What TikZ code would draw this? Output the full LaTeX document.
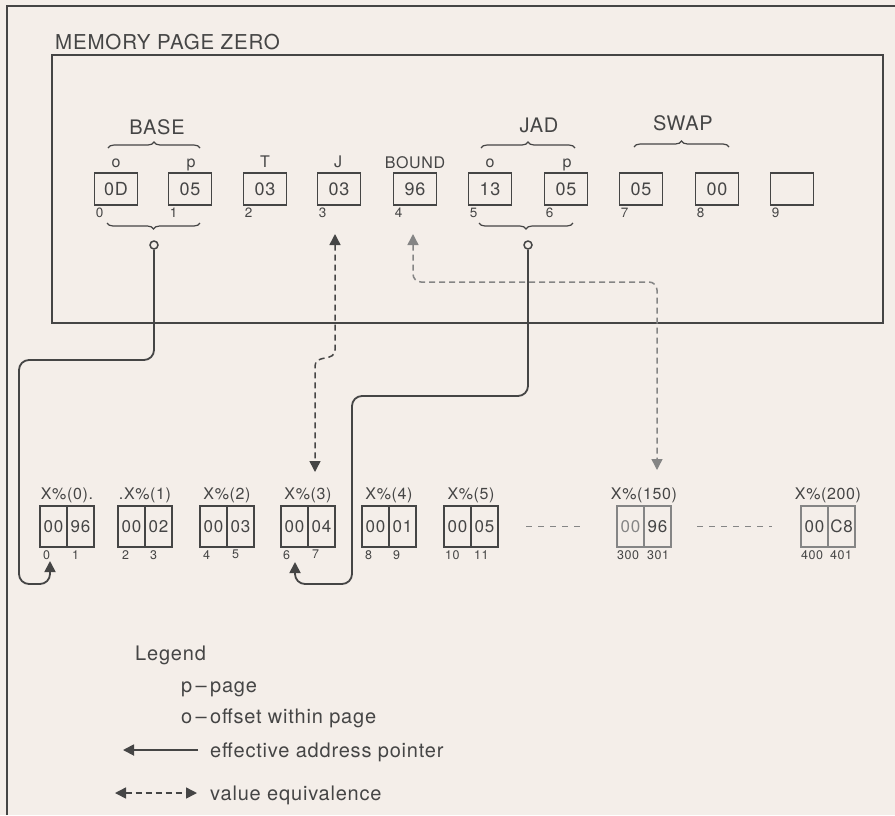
\documentclass[tikz,border=0pt]{standalone}
\usepackage{fontspec}
\setmainfont{TeX Gyre Heros}[LetterSpace=4]
\usetikzlibrary{arrows.meta, positioning, decorations.pathreplacing}
\definecolor{papel}{HTML}{F4EEE9}
\definecolor{tinta}{HTML}{454545}
\definecolor{tintaClara}{HTML}{858585}
\newcommand{\fsz}[1]{\fontsize{#1}{#1}\selectfont}

\begin{document}
\begin{tikzpicture}[x=1pt, y=-1pt, color=tinta, node distance=3pt,
        cell/.style={draw=tinta, line width=1.8pt, minimum width=43pt, minimum height=32pt,
            inner sep=0pt, font=\fsz{18}},
        idx/.style={font=\fsz{13.5}, inner sep=1pt, anchor=north west, xshift=1pt, yshift=-1pt},
        lbl/.style={font=\fsz{16}, inner sep=0pt, anchor=base},
        grp/.style={font=\fsz{20}, inner sep=0pt, anchor=base},
        brace/.style={decorate, decoration={brace, amplitude=6pt}, line width=1.2pt},
        pin/.style={circle, draw=tinta, line width=1.5pt, inner sep=0pt, minimum size=8pt},
        half/.style={draw=tinta, line width=1.8pt, minimum width=27pt, minimum height=41pt,
            inner sep=0pt, outer sep=0pt, font=\fsz{17}},
        hdr/.style={font=\fsz{16}, inner sep=0pt},
        bidx/.style={font=\fsz{12.5}, inner sep=0pt, anchor=north west, yshift=-3pt},
        ptr/.style={-{Triangle[width=11pt,length=11pt]}, line width=1.8pt, rounded corners=10pt},
        veq/.style={{Triangle[width=11pt,length=11pt]}-{Triangle[width=11pt,length=11pt]},
            line width=1.5pt, dash pattern=on 6pt off 4pt, rounded corners=8pt},
        sep/.style={line width=1.2pt, dash pattern=on 6pt off 6pt, tintaClara},
        leg/.style={font=\fsz{20}, inner sep=0pt, anchor=base west}]
    \fill[papel] (0,0) rectangle (895,815);
    \useasboundingbox (0,0) rectangle (895,815);
    % frames
    \draw[line width=1.5pt] (7,815) -- (7,6) -- (895,6);
    \draw[line width=2pt] (52,55) rectangle (883,323);
    \node[grp, anchor=base west, font=\fsz{20.5}] (ttl) at (55,49) {MEMORY PAGE ZERO};
    % page zero cells
    \node[cell] (m0) at (116,189) {0D};
    \node[cell] (m1) at (190,189) {05};
    \node[cell] (m2) at (265,189) {03};
    \node[cell] (m3) at (339,189) {03};
    \node[cell] (m4) at (415,189) {96};
    \node[cell] (m5) at (490,189) {13};
    \node[cell] (m6) at (566,189) {05};
    \node[cell] (m7) at (641,189) {05};
    \node[cell] (m8) at (717,189) {00};
    \node[cell] (m9) at (792,189) {};
    \node[idx] (i0) at (m0.south west) {0};
    \node[idx] (i1) at (m1.south west) {1};
    \node[idx] (i2) at (m2.south west) {2};
    \node[idx] (i3) at (m3.south west) {3};
    \node[idx] (i4) at (m4.south west) {4};
    \node[idx] (i5) at (m5.south west) {5};
    \node[idx] (i6) at (m6.south west) {6};
    \node[idx] (i7) at (m7.south west) {7};
    \node[idx] (i8) at (m8.south west) {8};
    \node[idx] (i9) at (m9.south west) {9};
    \node[lbl] (lo0) at (116,167) {o};
    \node[lbl] (lp1) at (191,167) {p};
    \node[lbl] (lt) at (265,167) {T};
    \node[lbl] (lj) at (338,167) {J};
    \node[lbl, font=\fsz{16}] (lbd) at (415,168) {BOUND};
    \node[lbl] (lo5) at (490,167) {o};
    \node[lbl] (lp6) at (567,167) {p};
    % groups
    \draw[brace] (108,148) -- (200,148);
    \draw[brace] (481,148) -- (575,148);
    \draw[brace] (634,147) -- (729,147);
    \node[grp] (gbase) at (157,134) {BASE};
    \node[grp] (gjad) at (539,132) {JAD};
    \node[grp] (gswap) at (683,130) {SWAP};
    \draw[brace] (200,223) -- (107,223);
    \draw[brace] (573,223) -- (479,223);
    \node[pin] (pbase) at (154,245) {};
    \node[pin] (pjad) at (528,245) {};
    % array X%
    \node[half] (x0l) at (53.5,526.5) {00};
    \node[half, right=0pt of x0l] (x0r) {96};
    \node[half] (x1l) at (131.5,526.5) {00};
    \node[half, right=0pt of x1l] (x1r) {02};
    \node[half] (x2l) at (213.5,526.5) {00};
    \node[half, right=0pt of x2l] (x2r) {03};
    \node[half] (x3l) at (294.5,526.5) {00};
    \node[half, right=0pt of x3l] (x3r) {04};
    \node[half] (x4l) at (375.5,526.5) {00};
    \node[half, right=0pt of x4l] (x4r) {01};
    \node[half] (x5l) at (457.5,526.5) {00};
    \node[half, right=0pt of x5l] (x5r) {05};
    \node[half, draw=tintaClara, text=tintaClara] (x150l) at (630.5,526.5) {00};
    \node[half, draw=tintaClara, right=0pt of x150l] (x150r) {96};
    \node[half, draw=tintaClara] (x200l) at (814.5,526.5) {00};
    \node[half, draw=tintaClara, right=0pt of x200l] (x200r) {C8};
    \node[hdr, above=of x0l.north east] (h0) {X\%(0).};
    \node[hdr, above=of x1l.north east] (h1) {.X\%(1)};
    \node[hdr, above=of x2l.north east] (h2) {X\%(2)};
    \node[hdr, above=of x3l.north east] (h3) {X\%(3)};
    \node[hdr, above=of x4l.north east] (h4) {X\%(4)};
    \node[hdr, above=of x5l.north east] (h5) {X\%(5)};
    \node[hdr, above=of x150l.north east] (h150) {X\%(150)};
    \node[hdr, above=of x200l.north east] (h200) {X\%(200)};
    \node[bidx, xshift=3pt] (j0) at (x0l.south west) {0};
    \node[bidx, xshift=5pt] (j1) at (x0r.south west) {1};
    \node[bidx, xshift=4pt] (j2) at (x1l.south west) {2};
    \node[bidx, xshift=5pt] (j3) at (x1r.south west) {3};
    \node[bidx, xshift=3pt] (j4) at (x2l.south west) {4};
    \node[bidx, xshift=5pt] (j5) at (x2r.south west) {5};
    \node[bidx, xshift=2pt] (j6) at (x3l.south west) {6};
    \node[bidx, xshift=4pt] (j7) at (x3r.south west) {7};
    \node[bidx, xshift=3pt] (j8) at (x4l.south west) {8};
    \node[bidx, xshift=4pt] (j9) at (x4r.south west) {9};
    \node[bidx, xshift=1pt] (j10) at (x5l.south west) {10};
    \node[bidx, xshift=3pt] (j11) at (x5r.south west) {11};
    \node[bidx] (j300) at (x150l.south west) {300};
    \node[bidx, xshift=3pt] (j301) at (x150r.south west) {301};
    \node[bidx] (j400) at (x200l.south west) {400};
    \node[bidx, xshift=2pt] (j401) at (x200r.south west) {401};
    \draw[sep, shorten <=28pt, shorten >=37pt] (x5r.east) -- (x150l.west);
    \draw[sep, shorten <=26pt, shorten >=29pt] (x150r.east) -- (x200l.west);
    % pointers
    \coordinate (t0) at (50,561);
    \coordinate (t3) at (295,562);
    \coordinate (vj) at (335,234);
    \coordinate (vx3) at (315,472);
    \coordinate (vb) at (413,234);
    \coordinate (vx150) at (657,470);
    \draw[ptr] (pbase) -- (154,360) -- (19,360) -- (19,584) -- (50,584) -- (t0);
    \draw[ptr] (pjad) -- (528,396) -- (352,396) -- (352,584) -- (295,584) -- (t3);
    \draw[veq, sharp corners] (vj) -- (335,350) .. controls (335,362) and (315,354) .. (315,366) -- (vx3);
    \draw[veq, tintaClara] (vb) -- (413,282) -- (657,282) -- (vx150);
    % legend
    \node[leg] (lgd) at (135,660) {Legend};
    \node[leg] (lgp) at (181,692) {p\,--\,page};
    \node[leg] (lgo) at (181,723) {o\,--\,offset within page};
    \node[leg] (lge) at (210,757) {effective address pointer};
    \node[leg] (lgv) at (210,800) {value equivalence};
    \coordinate (le1) at (198,750);
    \coordinate (le0) at (123,750);
    \coordinate (lv0) at (115,793);
    \coordinate (lv1) at (197,793);
    \draw[ptr] (le1) -- (le0);
    \draw[veq] (lv0) -- (lv1);
\end{tikzpicture}
\end{document}
